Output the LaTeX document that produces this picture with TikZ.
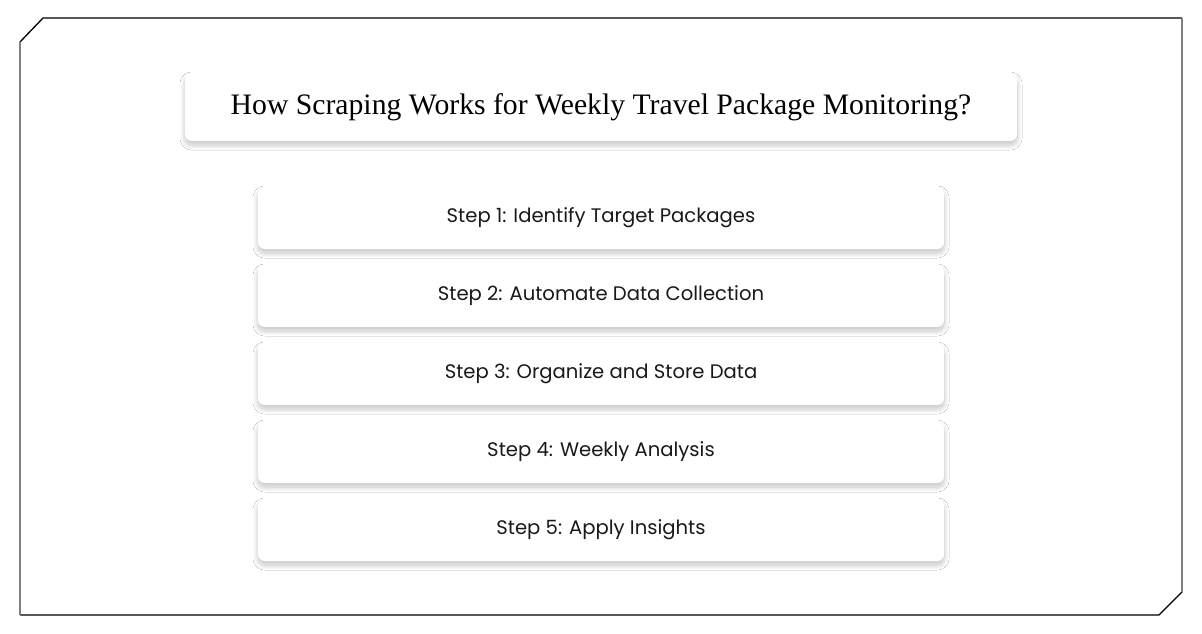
\documentclass[tikz,border=0pt]{standalone}
\usepackage{fontspec}
\setmainfont{Liberation Serif}
\newfontfamily\stepfont{Poppins}
\usetikzlibrary{shadows.blur}
\tikzset{
  stepbox/.style={draw=none, fill=white, rounded corners=7pt,
    minimum width=686pt, minimum height=62pt,
    blur shadow={shadow xshift=0pt, shadow yshift=-4pt, shadow blur radius=5pt,
      shadow blur steps=25, shadow opacity=24},
    font=\stepfont\fontsize{19.6}{22}\selectfont, text=black!90},
  titlebox/.style={stepbox, minimum width=832pt, minimum height=68pt,
    font=\fontsize{29.7}{34}\selectfont, text=black}
}
\begin{document}
\begin{tikzpicture}[x=1pt,y=-1pt]
    \fill[white] (0,0) rectangle (1202,634);
    \useasboundingbox (0,0) rectangle (1202,634);
    % outer frame
    \draw[line width=1.3pt] (20,42) -- (43,18) -- (1182,18) (1182,592) -- (1159,615) -- (20,615);
    \draw[line width=1.3pt, gray] (20,42) -- (20,615) (1182,18) -- (1182,592);
    % title
    \node[titlebox] (title) at (601,107) {How Scraping Works for Weekly Travel Package Monitoring?};
    % steps
    \foreach \n/\txt in {1/Identify Target Packages, 2/Automate Data Collection,
        3/Organize and Store Data, 4/Weekly Analysis, 5/Apply Insights}
        \node[stepbox] (step\n) at (601,140+78*\n) {Step \n: \txt};
\end{tikzpicture}
\end{document}
